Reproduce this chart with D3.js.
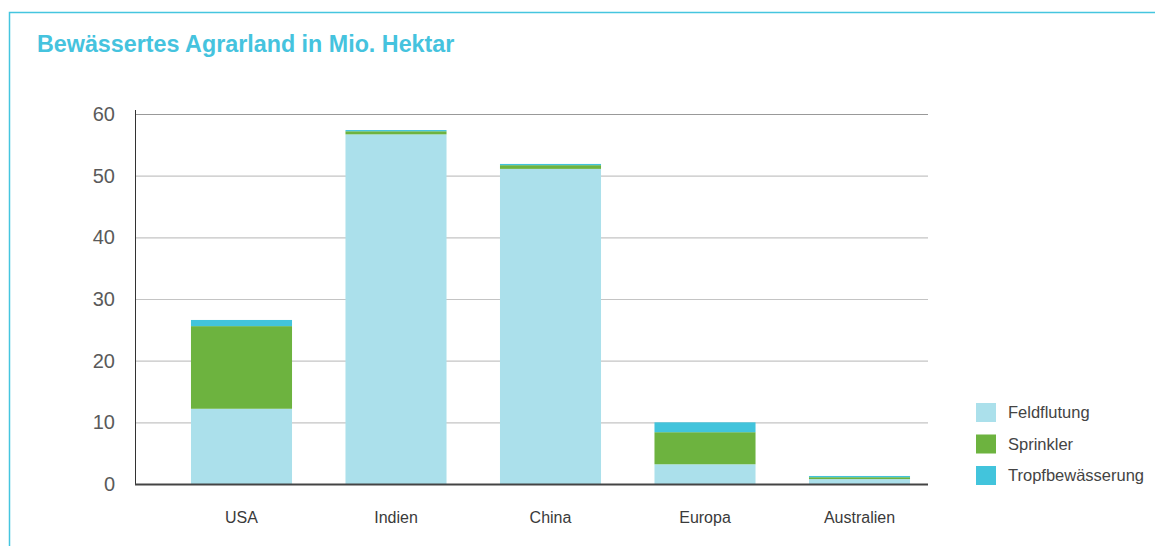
<!DOCTYPE html>
<html><head><meta charset="utf-8">
<script src="https://cdn.jsdelivr.net/npm/d3@7"></script>
<style>body{margin:0;background:#fff}svg{display:block}</style>
</head><body>
<svg id="c" width="1155" height="546"></svg>
<script>
const categories = ["USA","Indien","China","Europa","Australien"];
const seriesNames = ["Feldflutung","Sprinkler","Tropfbewässerung"];
const feldflutung = [12.2, 56.7, 51.1, 3.2, 0.8];
const sprinkler = [13.4, 0.5, 0.6, 5.2, 0.3];
const tropf = [1.0, 0.2, 0.2, 1.6, 0.2];
const yTicks = [0,10,20,30,40,50,60];
const colors = ["#abe0eb","#6db33f","#42c4dc"];

const svg = d3.select("#c");
// frame
svg.append("path").attr("d","M9.5,546 L9.5,12.5 L1160,12.5").attr("fill","none")
  .attr("stroke","#45c5df").attr("stroke-width",1.5);
svg.append("text").attr("x",37).attr("y",52).text("Bewässertes Agrarland in Mio. Hektar")
  .attr("font-family","Liberation Sans, Arial, sans-serif").attr("font-size",23.3).attr("font-weight","bold")
  .attr("fill","#45c3de");

const y = d3.scaleLinear().domain([0,60]).range([484,114]);
const x = d3.scaleBand().domain(categories).range([164.25,936.75]).paddingInner(0.346).paddingOuter(0.173);
const x0 = 135, x1 = 928;

// grid
svg.append("g").selectAll("line").data(yTicks.filter(d=>d>0)).join("line")
  .attr("x1",x0).attr("x2",x1).attr("y1",d=>y(d)+0.5).attr("y2",d=>y(d)+0.5)
  .attr("stroke",d=>d===60?"#999":"#c4c4c4").attr("stroke-width",1.2);

// y labels
svg.append("g").selectAll("text").data(yTicks).join("text")
  .attr("x",115).attr("y",d=>y(d)+7).attr("text-anchor","end").text(d=>d)
  .attr("font-family","Liberation Sans, Arial, sans-serif").attr("font-size",20).attr("fill","#5a5a5a");

// stacks
const rows = categories.map((c,i)=>({cat:c, Feldflutung:feldflutung[i], Sprinkler:sprinkler[i], "Tropfbewässerung":tropf[i]}));
const stack = d3.stack().keys(seriesNames)(rows);
svg.append("g").selectAll("g").data(stack).join("g").attr("fill",(d,i)=>colors[i])
  .selectAll("rect").data(d=>d).join("rect")
  .attr("x",d=>x(d.data.cat)).attr("width",x.bandwidth())
  .attr("y",d=>y(d[1])).attr("height",d=>y(d[0])-y(d[1]));

// axes lines
svg.append("line").attr("x1",x0+0.5).attr("x2",x0+0.5).attr("y1",110).attr("y2",485).attr("stroke","#333").attr("stroke-width",1);
svg.append("line").attr("x1",x0).attr("x2",x1).attr("y1",484.5).attr("y2",484.5).attr("stroke","#444").attr("stroke-width",2);

// x labels
svg.append("g").selectAll("text").data(categories).join("text")
  .attr("x",d=>x(d)+x.bandwidth()/2).attr("y",523).attr("text-anchor","middle").text(d=>d)
  .attr("font-family","Liberation Sans, Arial, sans-serif").attr("font-size",16).attr("fill","#3a3a3a");

// legend
const lg = svg.append("g").selectAll("g").data(seriesNames).join("g")
  .attr("transform",(d,i)=>`translate(976,${403+i*31.5})`);
lg.append("rect").attr("width",20).attr("height",19).attr("fill",(d,i)=>colors[i]);
lg.append("text").attr("x",32).attr("y",15).text(d=>d)
  .attr("font-family","Liberation Sans, Arial, sans-serif").attr("font-size",16.5).attr("fill","#444");
</script>
</body></html>
